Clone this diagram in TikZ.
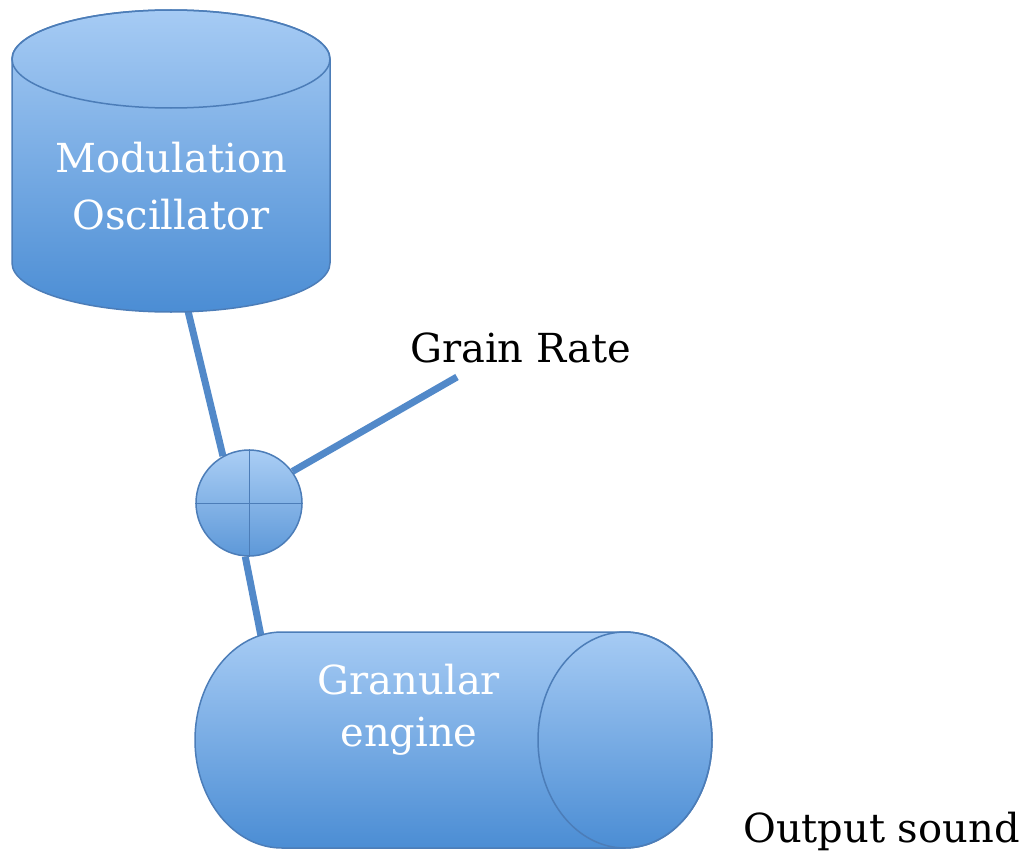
\documentclass[tikz,border=0pt]{standalone}
\usepackage{fontspec}
\setmainfont{DejaVu Serif}
\usetikzlibrary{backgrounds}
\definecolor{blueLight}{HTML}{A6CBF4}
\definecolor{blueDark}{HTML}{4B8DD4}
\definecolor{edgeBlue}{HTML}{4C7DB8}
\definecolor{wireBlue}{HTML}{5289C9}

\begin{document}
\begin{tikzpicture}[x=1pt,y=-1pt,
  cylbody/.style={draw=edgeBlue,line width=1.5pt,top color=blueLight,bottom color=blueDark},
  mixer/.style={circle,draw=edgeBlue,line width=1.5pt,top color=blueLight!95!white,bottom color=blueDark!90!white,minimum size=106pt,inner sep=0pt},
  wire/.style={wireBlue,line width=7pt},
  lblw/.style={text=white,align=center,inner sep=0pt},
  lblb/.style={text=black,inner sep=0pt,anchor=base west}
]
\useasboundingbox (0,0) rectangle (1028,851);

% modulation oscillator (upright cylinder)
\shadedraw[cylbody] (12,59) -- (12,263) arc[start angle=180,end angle=0,x radius=159,y radius=49]
  -- (330,59) arc[start angle=0,end angle=-180,x radius=159,y radius=49] -- cycle;
\draw[edgeBlue,line width=1.5pt] (171,59) ellipse[x radius=159,y radius=49];
\coordinate (oscfoot) at (188,311);

% granular engine (lying cylinder)
\shadedraw[cylbody] (625,632) -- (282,632) arc[start angle=-90,end angle=-270,x radius=87,y radius=108]
  -- (625,848) arc[start angle=90,end angle=-90,x radius=87,y radius=108] -- cycle;
\draw[edgeBlue,line width=1.5pt] (625,740) ellipse[x radius=87,y radius=108];
\coordinate (engtop) at (261,636);

% mixer
\node[mixer] (mix) at (249,503) {};
\draw[edgeBlue,line width=1pt] (mix.north) -- (mix.south) (mix.west) -- (mix.east);

% labels
\node[lblw,font=\fontsize{40}{57}\selectfont] (osclbl) at (171,186) {Modulation\\Oscillator};
\node[lblw,font=\fontsize{40}{52}\selectfont] (englbl) at (409,710) {Granular\\engine};
\node[lblb,font=\fontsize{40}{48}\selectfont] (rate) at (410,362) {Grain Rate};
\node[lblb,font=\fontsize{40}{48}\selectfont] (out) at (743,842) {Output sound};
\coordinate (ratein) at (457,377);

% wires
\begin{scope}[on background layer]
\draw[wire] (oscfoot) -- (mix.119);
\draw[wire] (mix.36) -- (ratein);
\draw[wire] (mix.-94) -- (engtop);
\end{scope}
\end{tikzpicture}
\end{document}
